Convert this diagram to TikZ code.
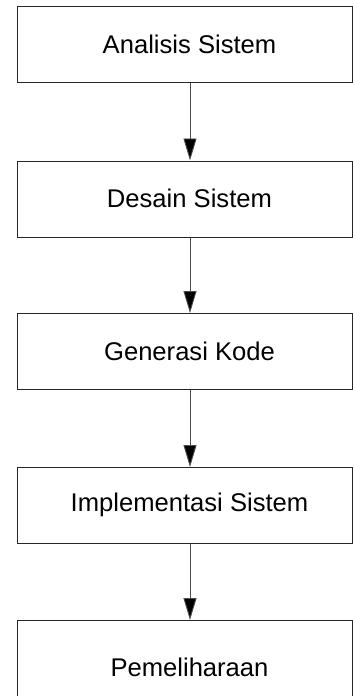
\documentclass[tikz,border=0pt]{standalone}
\usepackage{fontspec}
\setmainfont{Liberation Sans}
\usetikzlibrary{arrows.meta}
\begin{document}
\begin{tikzpicture}[x=1pt,y=-1pt,
  stagebox/.style={draw=black!85,line width=1pt,fill=white,minimum width=335pt,minimum height=76pt,inner sep=0pt,anchor=north west},
  stagetext/.style={font=\fontsize{25.6}{30}\selectfont,inner sep=0pt,text=black},
  flow/.style={draw=black!70,line width=0.9pt,-{Triangle[width=13pt,length=22pt,fill=black]}}]
\useasboundingbox (0,0) rectangle (353,696);
% stage boxes
\node[stagebox] (b1) at (17,6) {};
\node[stagebox] (b2) at (17,160.5) {};
\node[stagebox] (b3) at (17,313) {};
\node[stagebox] (b4) at (17,467) {};
\node[stagebox,minimum height=94pt] (b5) at (17,620) {};
% stage labels
\node[stagetext] (t1) at (189.5,44) {Analisis Sistem};
\node[stagetext] (t2) at (189.5,198.5) {Desain Sistem};
\node[stagetext] (t3) at (189.5,351) {Generasi Kode};
\node[stagetext] (t4) at (189.5,505) {Implementasi Sistem};
\node[stagetext] (t5) at (189.5,667) {Pemeliharaan};
% connectors
\draw[flow] (b1.south -| 190,0) -- (b2.north -| 190,0);
\draw[flow] (b2.south -| 190,0) -- (b3.north -| 190,0);
\draw[flow] (b3.south -| 190,0) -- (b4.north -| 190,0);
\draw[flow] (b4.south -| 190,0) -- (b5.north -| 190,0);
\end{tikzpicture}
\end{document}
